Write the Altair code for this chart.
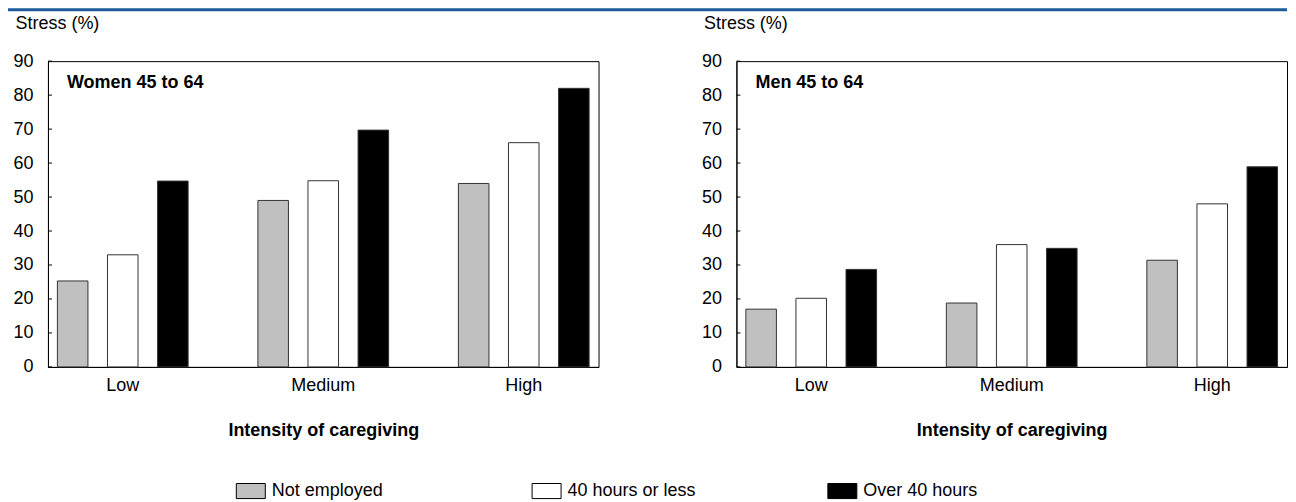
import altair as alt
import pandas as pd

intensity = ["Low", "Medium", "High"]
employment = ["Not employed", "40 hours or less", "Over 40 hours"]
women = [25.3, 33.0, 54.7, 49.0, 54.8, 69.7, 54.0, 66.0, 82.0]
men = [17.0, 20.2, 28.7, 18.8, 36.0, 34.9, 31.4, 48.0, 58.9]
panel_labels = ["Women 45 to 64", "Men 45 to 64"]
y_ticks = [0, 10, 20, 30, 40, 50, 60, 70, 80, 90]
colors = ["#c0c0c0", "#ffffff", "#000000"]

FONT = "Liberation Sans"
FS = 18
W, H = 551, 306


def make_df(vals):
    rows = []
    k = 0
    for i in intensity:
        for e in employment:
            rows.append({"intensity": i, "employment": e, "stress": vals[k]})
            k += 1
    return pd.DataFrame(rows)


yscale = alt.Scale(domain=[0, 90], nice=False)
yaxis = alt.Axis(values=y_ticks, title="Stress (%)", titleAngle=0, titleAlign="left",
                 titleBaseline="alphabetic", titleX=-33, titleY=-33, titleFontSize=FS,
                 titleFontWeight="normal", titleColor="#000", grid=False,
                 ticks=False, labelPadding=15, labelFontSize=FS, labelColor="#000",
                 labelOverlap=False, labelBound=False,
                 domainColor="#000", labelFont=FONT, titleFont=FONT)


def panel(vals, label):
    df = make_df(vals)
    bars = alt.Chart(df).mark_bar(stroke="#333333", strokeWidth=1).encode(
        x=alt.X("intensity:N", sort=intensity,
                scale=alt.Scale(paddingInner=0.348, paddingOuter=0.047),
                axis=alt.Axis(title="Intensity of caregiving", labelAngle=0, ticks=False,
                              labelFontSize=FS, labelPadding=10, labelColor="#000",
                              titleFontSize=FS, titleFontWeight="bold", titlePadding=27,
                              titleColor="#000", domainColor="#000", labelFont=FONT, titleFont=FONT)),
        xOffset=alt.XOffset("employment:N", sort=employment,
                            scale=alt.Scale(paddingInner=0.39, paddingOuter=0)),
        y=alt.Y("stress:Q", scale=yscale, axis=yaxis),
        color=alt.Color("employment:N", sort=employment,
                        scale=alt.Scale(domain=employment, range=colors),
                        legend=alt.Legend(title=None, orient="none", direction="horizontal",
                                          columns=3, gridAlign="all",
                                          legendX=188, legendY=468,
                                          symbolType="M-1,-0.52L1,-0.52L1,0.52L-1,0.52Z",
                                          symbolSize=841, symbolStrokeColor="#000",
                                          symbolStrokeWidth=1, labelFontSize=FS, labelFont=FONT,
                                          labelColor="#000", columnPadding=129, labelOffset=6)),
    )
    ticks = alt.Chart(pd.DataFrame({"v": y_ticks})).mark_rule(color="#000", strokeWidth=1).encode(
        y=alt.Y("v:Q", scale=yscale, axis=yaxis), x=alt.value(0), x2=alt.value(4)
    )
    txt = alt.Chart(pd.DataFrame({"t": [label]})).mark_text(
        font=FONT, fontSize=FS, fontWeight="bold", align="left", baseline="alphabetic", color="#000"
    ).encode(text="t:N", x=alt.value(19), y=alt.value(27))
    return alt.layer(bars, ticks, txt).properties(width=W, height=H)


top = alt.Chart(pd.DataFrame({"a": [1]})).mark_rect(color="#1d5b9b").encode(
    x=alt.value(-40), x2=alt.value(1240), y=alt.value(0), y2=alt.value(3)
).properties(width=1200, height=3, view=alt.ViewBackground(stroke=None, strokeWidth=0))

charts = alt.hconcat(panel(women, panel_labels[0]), panel(men, panel_labels[1]), spacing=101)
chart = alt.vconcat(top, charts, spacing=2).properties(
    padding={"left": 0, "top": 0, "right": 0, "bottom": 0}
).configure_view(stroke="#000", strokeWidth=1).configure_axis(domainWidth=1)

chart.save("out.html", embed_options={"renderer": "svg", "actions": False})
